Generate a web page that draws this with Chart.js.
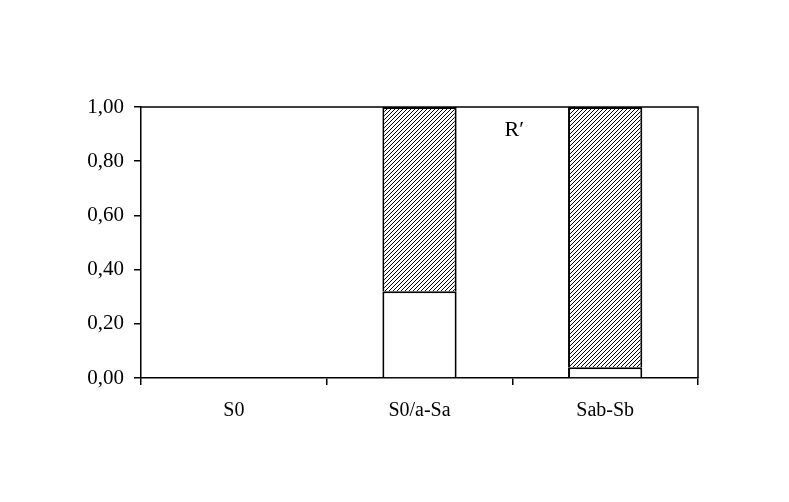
<!DOCTYPE html>
<html>
<head>
<meta charset="utf-8">
<script src="https://cdn.jsdelivr.net/npm/chart.js@4/dist/chart.umd.min.js"></script>
<style>
  html, body { margin: 0; padding: 0; background: #fff; }
  #wrap { width: 789px; height: 502px; }
</style>
</head>
<body>
<div id="wrap"><canvas id="chart" width="789" height="502"></canvas></div>
<script>
// --- Data ---
const categories = ['S0', 'S0/a-Sa', 'Sab-Sb'];
const lowerPart = [0, 0.32, 0.04];   // white segment
const upperPart = [0, 0.68, 0.96];   // hatched segment
const yTicks = [0, 0.2, 0.4, 0.6, 0.8, 1.0];
const panelLabel = 'R\u2032';

// hatched fill (/ diagonal lines)
function makeHatch() {
    const c = document.createElement('canvas');
    c.width = 4; c.height = 4;
    const g = c.getContext('2d');
    g.fillStyle = '#fff';
    g.fillRect(0, 0, 4, 4);
    g.strokeStyle = '#000';
    g.lineWidth = 1;
    g.beginPath();
    g.moveTo(0, 4); g.lineTo(4, 0);
    g.moveTo(-1, 1); g.lineTo(1, -1);
    g.moveTo(3, 5); g.lineTo(5, 3);
    g.stroke();
    return g.createPattern(c, 'repeat');
}

// box round the plot + the R' label
const frame = {
    id: 'frame',
    afterDraw(chart) {
        const { ctx, chartArea: a, scales } = chart;
        ctx.save();
        ctx.strokeStyle = '#000';
        ctx.lineWidth = 1.5;
        ctx.beginPath();
        ctx.moveTo(a.left, a.top);
        ctx.lineTo(a.right, a.top);
        ctx.lineTo(a.right, a.bottom);
        ctx.stroke();
        ctx.fillStyle = '#000';
        ctx.font = '22px "Liberation Serif"';
        ctx.textAlign = 'center';
        ctx.textBaseline = 'middle';
        ctx.fillText(panelLabel, scales.x.getPixelForValue(1.5) + 2, scales.y.getPixelForValue(0.915));
        ctx.restore();
    }
};

const hatch = makeHatch();

new Chart(document.getElementById('chart'), {
    type: 'bar',
    data: {
        labels: categories,
        datasets: [
            {
                data: lowerPart,
                backgroundColor: '#fff',
                borderColor: '#000',
                borderWidth: 2,
                barPercentage: 0.4,
                categoryPercentage: 1
            },
            {
                data: upperPart,
                backgroundColor: hatch,
                borderColor: '#000',
                borderWidth: 2,
                barPercentage: 0.4,
                categoryPercentage: 1
            }
        ]
    },
    options: {
        responsive: false,
        animation: false,
        layout: { padding: { top: 107, right: 91, left: 0, bottom: 0 } },
        plugins: { legend: { display: false }, tooltip: { enabled: false } },
        scales: {
            x: {
                stacked: true,
                afterFit: s => { s.height = 124; },
                grid: { drawOnChartArea: false, tickLength: 7, color: '#000', lineWidth: 1.5, offset: true },
                border: { color: '#000', width: 1.5 },
                ticks: { color: '#000', padding: 14, font: { family: 'Liberation Serif', size: 20 } }
            },
            y: {
                stacked: true,
                min: 0, max: 1,
                afterFit: s => { s.width = 141; },
                afterBuildTicks: s => { s.ticks = yTicks.map(v => ({ value: v })); },
                grid: { drawOnChartArea: false, tickLength: 7, color: '#000', lineWidth: 1.5 },
                border: { color: '#000', width: 1.5 },
                ticks: {
                    color: '#000', padding: 10,
                    font: { family: 'Liberation Serif', size: 21 },
                    callback: v => v.toFixed(2).replace('.', ',')
                }
            }
        }
    },
    plugins: [frame]
});
</script>
</body>
</html>
